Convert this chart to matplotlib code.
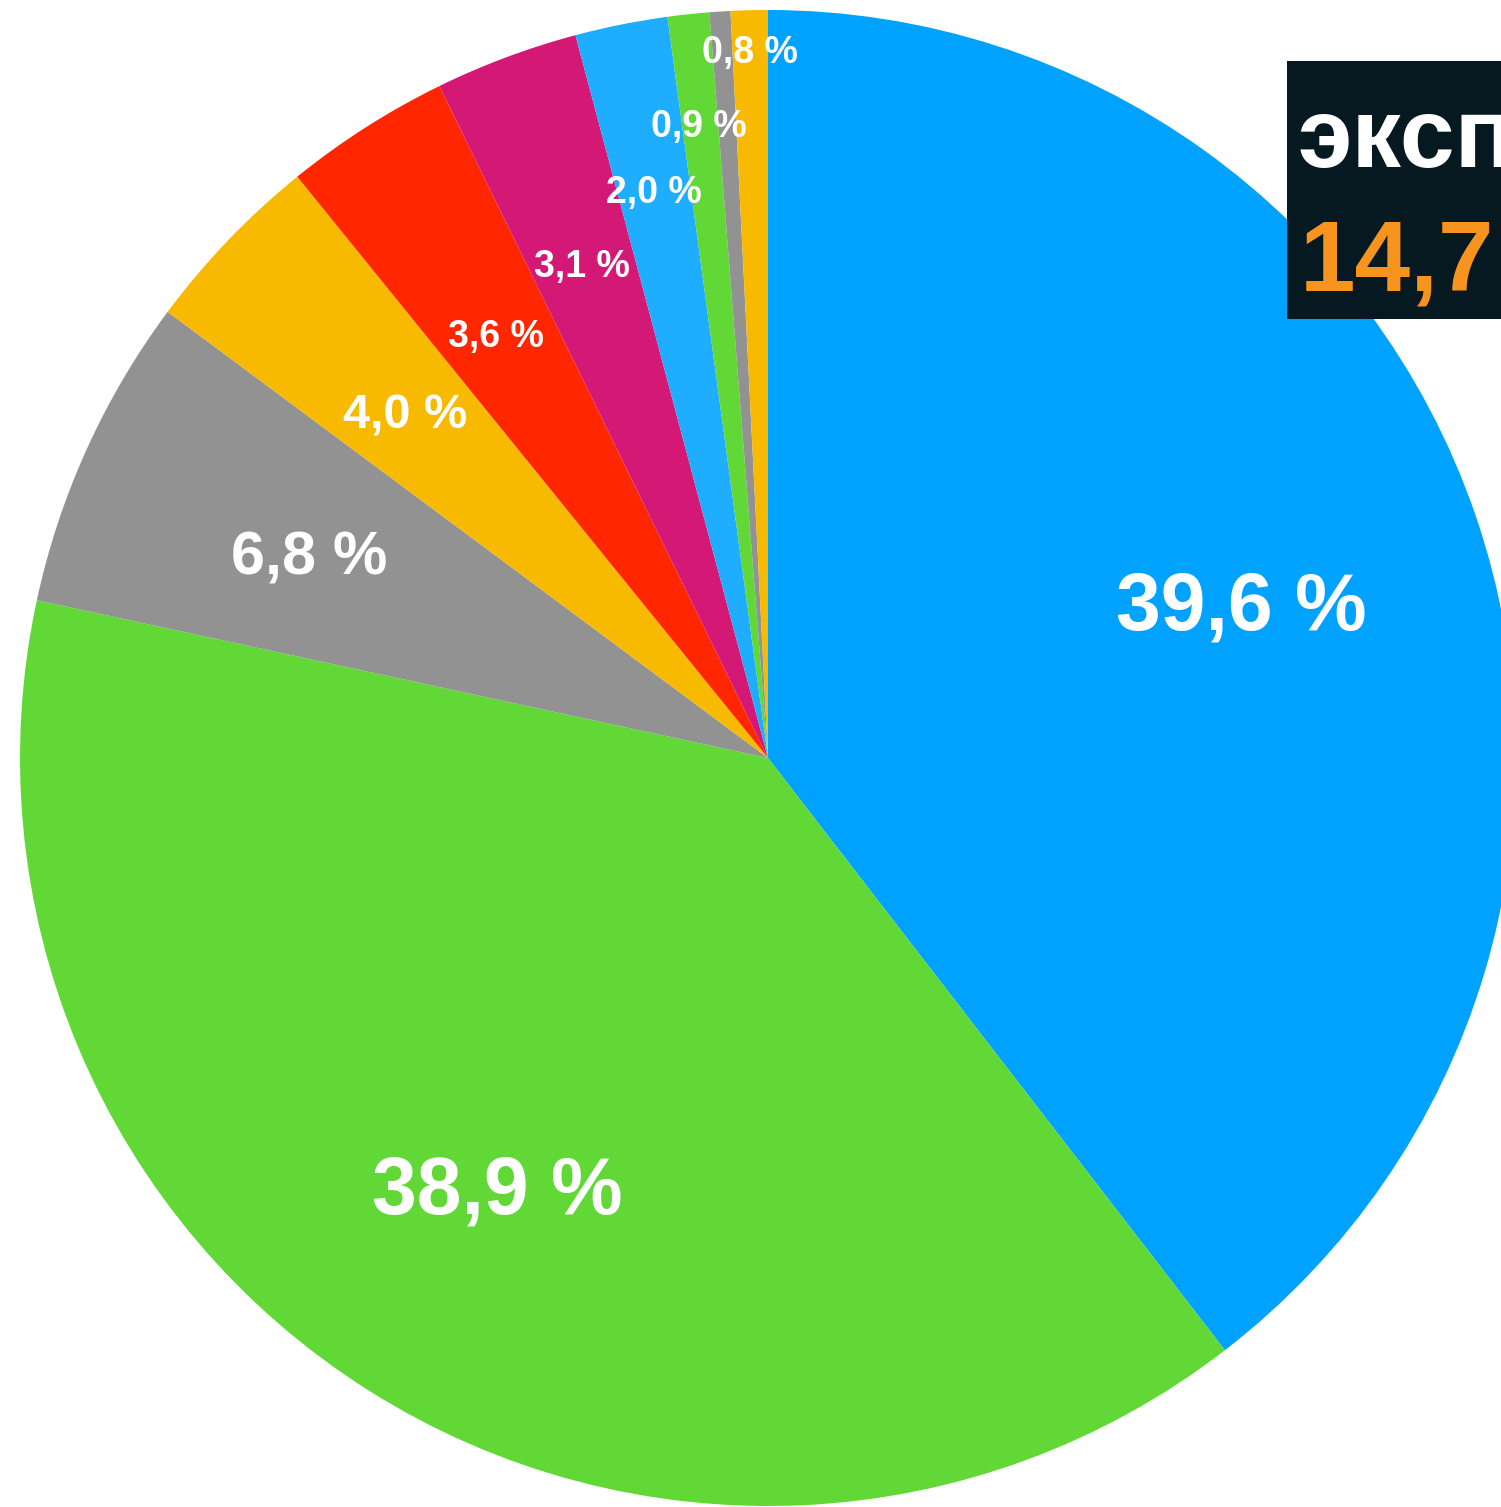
import matplotlib
matplotlib.use("Agg")
import matplotlib.pyplot as plt
from matplotlib.patches import Rectangle

plt.rcParams["font.family"] = ["Liberation Sans", "DejaVu Sans"]

# shares in %, clockwise from 12 o'clock
shares = [39.6, 38.9, 6.8, 4.0, 3.6, 3.1, 2.0, 0.9, 0.45, 0.8]
colors = ["#00A2FF", "#61D836", "#929292", "#F8BA00", "#FF2600",
          "#D31876", "#1EADFF", "#61D836", "#929292", "#F8BA00"]
show_label = [True, True, True, True, True, True, True, True, False, True]

# label placement (pixel coords of text centre / baseline) and sizes
label_pos = [(1241, 630), (497, 1214), (309, 575), (405, 429), (496, 347),
             (582, 277), (654, 203), (699, 137), None, (750, 63)]
label_size = [58, 58, 44, 35, 27, 27, 27, 27, 0, 27]

box_title = "эксп"
box_value = "14,7"

W, H = 1501, 1507
fig = plt.figure(figsize=(W / 100, H / 100), dpi=100)
ax = fig.add_axes([0, 0, 1, 1])

ax.pie(shares, colors=colors, startangle=90, counterclock=False,
       center=(768, H - 758), radius=748,
       wedgeprops=dict(linewidth=0, antialiased=True), frame=True)
ax.set_xlim(0, W)
ax.set_ylim(0, H)
ax.set_aspect("equal")
ax.axis("off")

for v, show, pos, fs in zip(shares, show_label, label_pos, label_size):
    if not show:
        continue
    txt = f"{v:.1f} %".replace(".", ",")
    ax.text(pos[0], H - pos[1], txt, ha="center", va="baseline",
            fontsize=fs, fontweight="bold", color="white")

# dark info box on the right, cut off by the figure edge (as in the source)
ax.add_patch(Rectangle((1287, H - 319), 260, 258, facecolor="#061820",
                       edgecolor="none"))
ax.text(1298, H - 167, box_title, ha="left", va="baseline",
        fontsize=71, fontweight="bold", color="white")
ax.text(1300, H - 290, box_value, ha="left", va="baseline",
        fontsize=72, fontweight="bold", color="#F7941D")

fig.savefig("out.png", dpi=100, facecolor="white")
